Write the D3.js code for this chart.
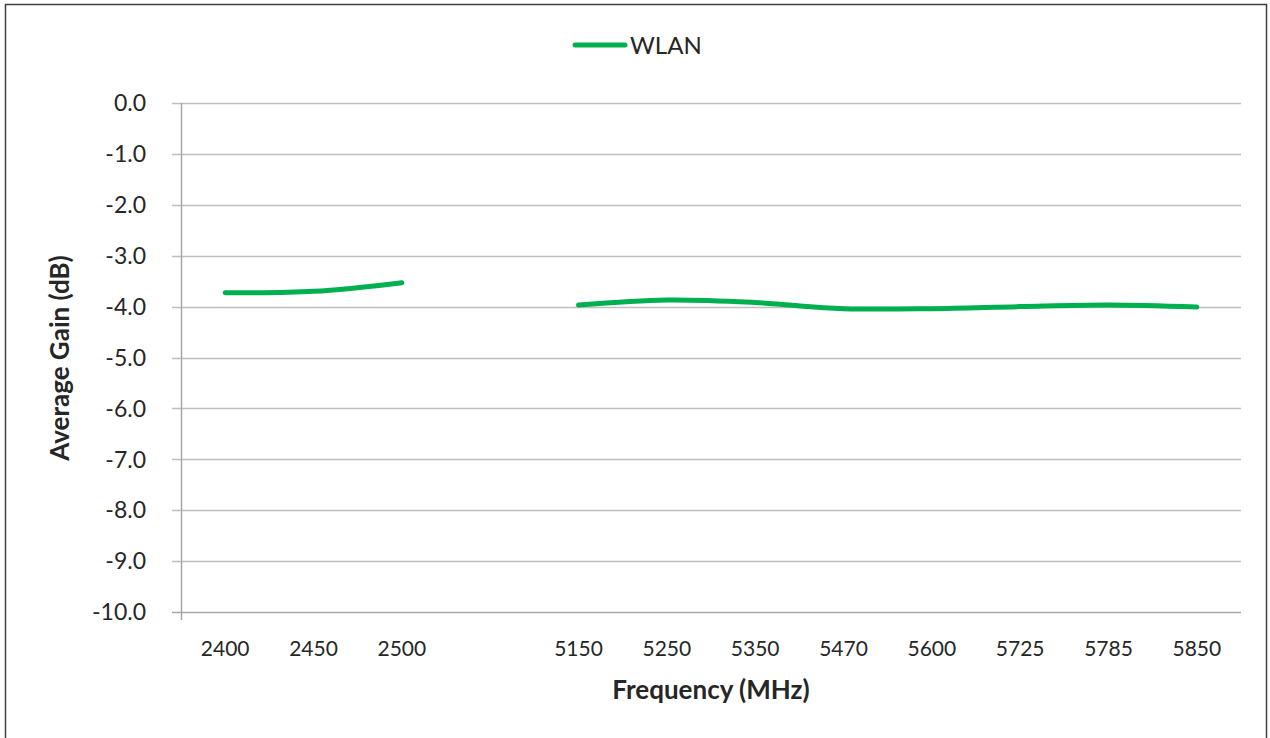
<!DOCTYPE html>
<meta charset="utf-8">
<script src="https://d3js.org/d3.v7.min.js"></script>
<style>
  body { margin: 0; background: #fff; }
  text { font-family: Lato, "Open Sans", sans-serif; fill: #262626; }
</style>
<div id="chart"></div>
<script>

// Datos del gráfico
var categorias = ["2400", "2450", "2500", "", "5150", "5250", "5350", "5470", "5600", "5725", "5785", "5850"];
var ganancia   = [-3.73, -3.70, -3.53, null, -3.97, -3.87, -3.92, -4.04, -4.04, -4.00, -3.97, -4.01];
var ticksY     = [0, -1, -2, -3, -4, -5, -6, -7, -8, -9, -10];

var W = 1270, H = 738;
var margin = {top: 103, right: 29, bottom: 126, left: 181},
    width = W - margin.left - margin.right,
    height = H - margin.top - margin.bottom;

var svg = d3.select("#chart").append("svg")
    .attr("width", W)
    .attr("height", H);

// marco exterior
svg.append("rect")
  .attr("x", 5.5).attr("y", 4.5)
  .attr("width", 1261).attr("height", 740)
  .attr("fill", "none")
  .attr("stroke", "#404040")
  .attr("stroke-width", 1.5);

var g = svg.append("g")
  .attr("transform", "translate(" + margin.left + "," + margin.top + ")");

var x = d3.scaleBand()
  .domain(d3.range(categorias.length))
  .range([0, width]);

var y = d3.scaleLinear()
  .domain([-10, 0])
  .range([height, 0]);

// líneas de rejilla
g.selectAll(".grid")
  .data(ticksY)
  .enter().append("line")
    .attr("x1", -9)
    .attr("x2", width)
    .attr("y1", function(d) { return Math.round(y(d)) + 0.5; })
    .attr("y2", function(d) { return Math.round(y(d)) + 0.5; })
    .attr("stroke", function(d) { return d === -10 ? "#a6a6a6" : "#bfbfbf"; })
    .attr("stroke-width", 1.3);

// eje Y
g.append("line")
  .attr("x1", 0.5).attr("x2", 0.5)
  .attr("y1", 0).attr("y2", height + 8)
  .attr("stroke", "#a6a6a6")
  .attr("stroke-width", 1.5);

g.selectAll(".ylab")
  .data(ticksY)
  .enter().append("text")
    .attr("x", -35)
    .attr("y", function(d) { return y(d); })
    .attr("dy", "0.36em")
    .attr("text-anchor", "end")
    .style("font-size", "23px")
    .text(function(d) { return d.toFixed(1); });

// eje X
g.selectAll(".xlab")
  .data(categorias)
  .enter().append("text")
    .attr("x", function(d, i) { return x(i) + x.bandwidth() / 2; })
    .attr("y", height + 44)
    .attr("text-anchor", "middle")
    .style("font-size", "21px")
    .text(function(d) { return d; });

// serie WLAN
var linea = d3.line()
  .defined(function(d) { return d !== null; })
  .x(function(d, i) { return x(i) + x.bandwidth() / 2; })
  .y(function(d) { return y(d); })
  .curve(d3.curveCatmullRom.alpha(0));

g.append("path")
  .datum(ganancia)
  .attr("d", linea)
  .attr("fill", "none")
  .attr("stroke", "#00b050")
  .attr("stroke-width", 5)
  .attr("stroke-linecap", "round");

// títulos de ejes
svg.append("text")
  .attr("x", 711)
  .attr("y", 699)
  .attr("text-anchor", "middle")
  .style("font-size", "26px")
  .style("font-weight", "bold")
  .text("Frequency (MHz)");

svg.append("text")
  .attr("transform", "translate(69,358) rotate(-90)")
  .attr("text-anchor", "middle")
  .style("font-size", "26px")
  .style("font-weight", "bold")
  .text("Average Gain (dB)");

// leyenda
svg.append("line")
  .attr("x1", 575).attr("x2", 625)
  .attr("y1", 45).attr("y2", 45)
  .attr("stroke", "#00b050")
  .attr("stroke-width", 5)
  .attr("stroke-linecap", "round");

svg.append("text")
  .attr("x", 630)
  .attr("y", 45)
  .attr("dy", "0.36em")
  .style("font-size", "24px")
  .text("WLAN");

</script>
